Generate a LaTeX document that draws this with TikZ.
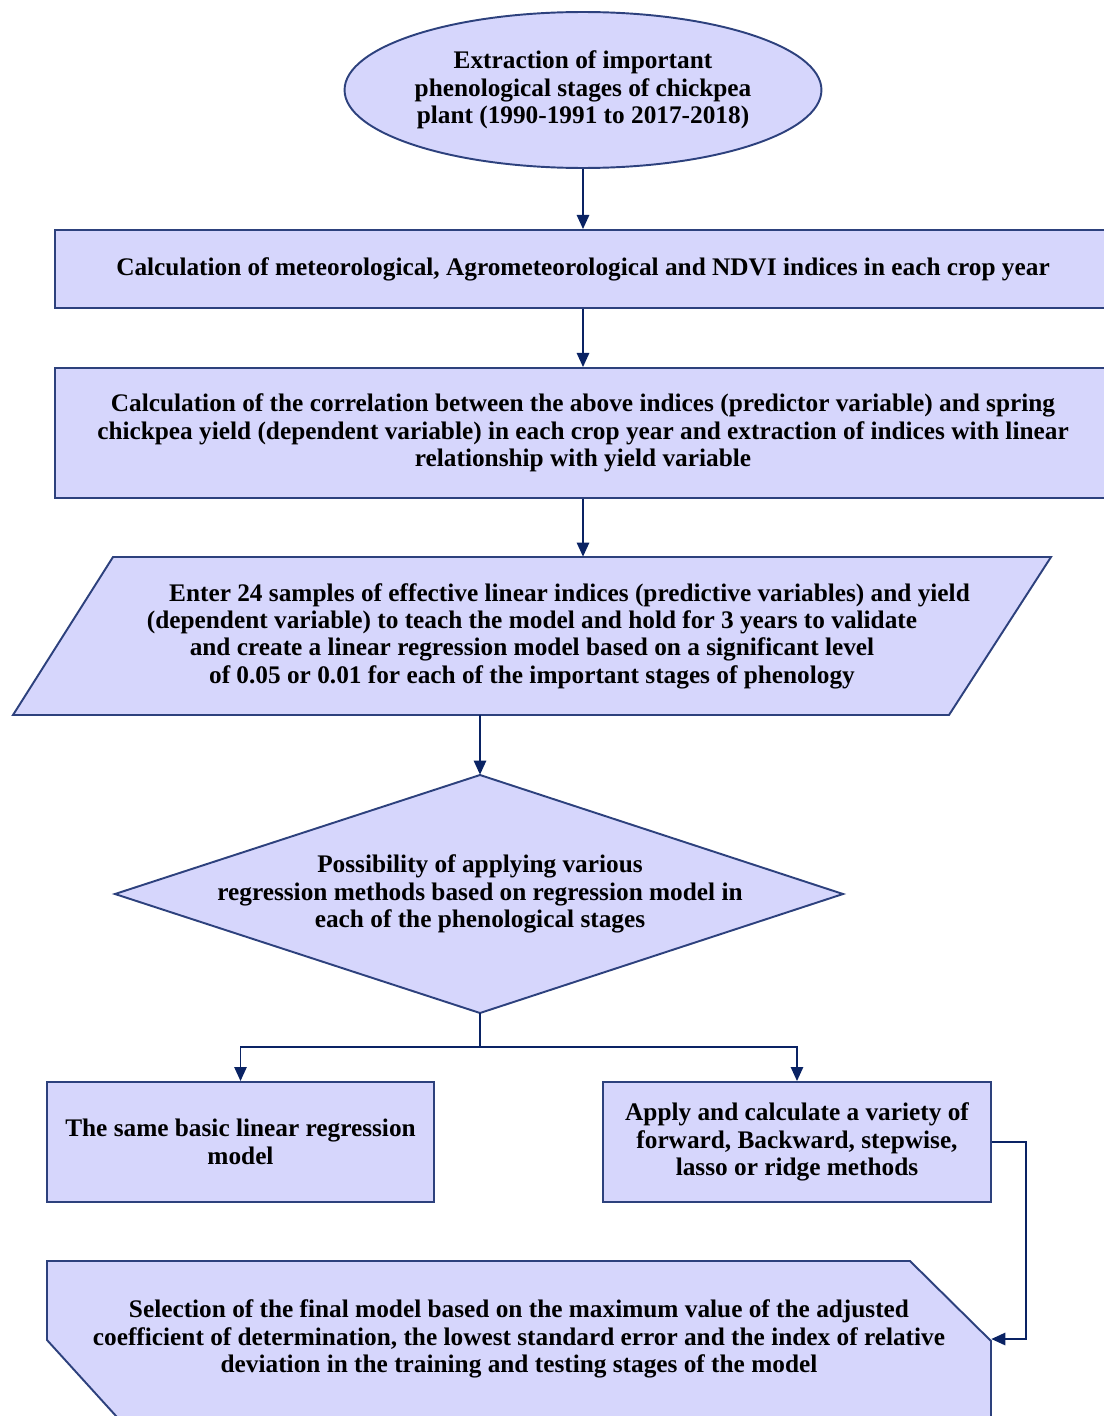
\documentclass[tikz,border=0pt]{standalone}
\usepackage{fontspec}
\setmainfont{Liberation Serif}
\usetikzlibrary{arrows.meta,shapes.geometric}

\begin{document}
\begin{tikzpicture}[>={Triangle[width=7pt,length=8pt]},x=0.02cm,y=-0.02cm,
 font=\fontsize{14.4}{15.6}\selectfont\bfseries,
 blk/.style={draw=edge,fill=boxfill,line width=1.1pt,align=center,inner sep=0pt},
 outline/.style={draw=edge,fill=boxfill,line width=1.1pt},
 flow/.style={->,link,line width=1.1pt}]
\definecolor{boxfill}{RGB}{214,214,252}
\definecolor{edge}{RGB}{45,65,125}
\definecolor{link}{RGB}{10,35,100}
\useasboundingbox (0,0) rectangle (1103,1416);
\node[blk,ellipse,minimum width=9.54cm,minimum height=3.12cm] (extract) at (583,90)
 {Extraction of important\\phenological stages of chickpea\\plant (1990-1991 to 2017-2018)};
\node[blk,minimum width=21.12cm,minimum height=1.56cm] (indices) at (583,269)
 {Calculation of meteorological, Agrometeorological and NDVI indices in each crop year};
\node[blk,minimum width=21.12cm,minimum height=2.6cm] (corr) at (583,433)
 {Calculation of the correlation between the above indices (predictor variable) and spring\\
 chickpea yield (dependent variable) in each crop year and extraction of indices with linear\\
 relationship with yield variable};
% parallelogram and diamond drawn by hand, text nodes keep the anchors
\draw[outline] (113,557) -- (1051,557) -- (949,715) -- (13,715) -- cycle;
\node[align=center,inner sep=0pt,minimum height=3.16cm] (enter) at (532,636)
 {\hspace*{1.5cm}Enter 24 samples of effective linear indices (predictive variables) and yield\\
 (dependent variable) to teach the model and hold for 3 years to validate\\
 and create a linear regression model based on a significant level\\
 of 0.05 or 0.01 for each of the important stages of phenology};
\draw[outline] (480,775) -- (843,894) -- (480,1013) -- (115,894) -- cycle;
\node[align=center,inner sep=0pt,minimum height=4.76cm] (possible) at (480,894)
 {Possibility of applying various\\regression methods based on regression model in\\each of the phenological stages};
\node[blk,minimum width=7.74cm,minimum height=2.4cm] (same) at (240.5,1142)
 {The same basic linear regression\\model};
\node[blk,minimum width=7.76cm,minimum height=2.4cm] (apply) at (797,1142)
 {Apply and calculate a variety of\\forward, Backward, stepwise,\\lasso or ridge methods};
\draw[outline] (47,1261) -- (910,1261) -- (991,1341)
 -- (991,1460) -- (156,1460) -- (47,1340) -- cycle;
\node[align=center,inner sep=0pt,minimum width=18.88cm] (select) at (519,1339)
 {Selection of the final model based on the maximum value of the adjusted\\
 coefficient of determination, the lowest standard error and the index of relative\\
 deviation in the training and testing stages of the model};
\coordinate (split) at (480,1047);
\draw[flow] (extract) -- (indices);
\draw[flow] (indices) -- (corr);
\draw[flow] (corr.south) -- (corr.south |- enter.north);
\draw[flow] (enter.south -| possible.north) -- (possible.north);
\draw[flow,-] (possible.south) -- (split);
\draw[flow] (split) -| (same.north);
\draw[flow] (split) -| (apply.north);
\draw[flow] (apply.east) -- ++(34,0) |- (select.east);
\end{tikzpicture}
\end{document}
